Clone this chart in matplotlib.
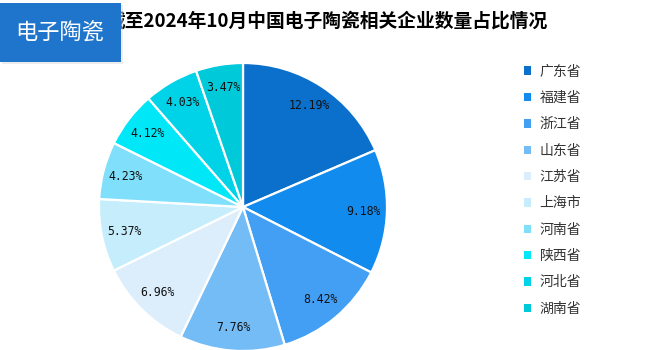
import matplotlib
matplotlib.use("Agg")
import matplotlib.pyplot as plt
from matplotlib.patches import Rectangle
import numpy as np

plt.rcParams['font.family'] = ['Noto Sans CJK SC', 'DejaVu Sans']

title = "截至2024年10月中国电子陶瓷相关企业数量占比情况"
badge = "电子陶瓷"
categories = ["广东省", "福建省", "浙江省", "山东省", "江苏省",
              "上海市", "河南省", "陕西省", "河北省", "湖南省"]
values = [12.19, 9.18, 8.42, 7.76, 6.96, 5.37, 4.23, 4.12, 4.03, 3.47]
colors = ["#0B70CC", "#128BEF", "#429FF4", "#74BCF6", "#DCEEFC",
          "#C6EDFC", "#80DFFA", "#00E8F8", "#00D3E8", "#00C9DA"]

W, H = 653, 350
fig = plt.figure(figsize=(W / 100, H / 100), dpi=100)
fig.patch.set_facecolor("white")

cx, cy, r = 243, 207, 144
ax = fig.add_axes([(cx - r) / W, (H - cy - r) / H, 2 * r / W, 2 * r / H])

labels_txt = [f"{v:.2f}%" for v in values]
wedges, _ = ax.pie(values, colors=colors, startangle=90, counterclock=False,
                   radius=1, wedgeprops=dict(edgecolor="white", linewidth=1.6))
ax.set_xlim(-1, 1)
ax.set_ylim(-1, 1)
ax.axis("off")

total = sum(values)
ang = 90.0
for v, t in zip(values, labels_txt):
    ext = v / total * 360
    mid = np.deg2rad(ang - ext / 2)
    ang -= ext
    ax.text(0.84 * np.cos(mid), 0.84 * np.sin(mid), t, ha="center", va="center",
            fontsize=8.3, family=["DejaVu Sans Mono"], color="#111111")

# title
fig.text(327 / W, 1 - 21 / H, title, ha="center", va="center",
         fontsize=13.5, fontweight="bold", color="#000000", zorder=1)

# badge
fig.patches.append(Rectangle((2 / W, 1 - 64 / H), 121 / W, 59 / H,
                             transform=fig.transFigure, facecolor="#DDDDDD",
                             edgecolor="none", alpha=0.5, zorder=4))
fig.patches.append(Rectangle((0, 1 - 62 / H), 121 / W, 59 / H,
                             transform=fig.transFigure, facecolor="#1F74CC",
                             edgecolor="none", zorder=5))
fig.text(60 / W, 1 - 33 / H, badge, ha="center", va="center",
         fontsize=16, color="white", zorder=6)

leg = fig.legend(wedges, categories, loc="upper left",
                 bbox_to_anchor=(518 / W, 1 - 59 / H), frameon=False,
                 fontsize=10, handlelength=0.55, handleheight=0.55,
                 handletextpad=0.6, labelspacing=0.89, borderaxespad=0)
for t in leg.get_texts():
    t.set_color("#333333")
for h in leg.legend_handles:
    h.set_edgecolor("none")

fig.savefig("out.png", dpi=100, facecolor="white")
